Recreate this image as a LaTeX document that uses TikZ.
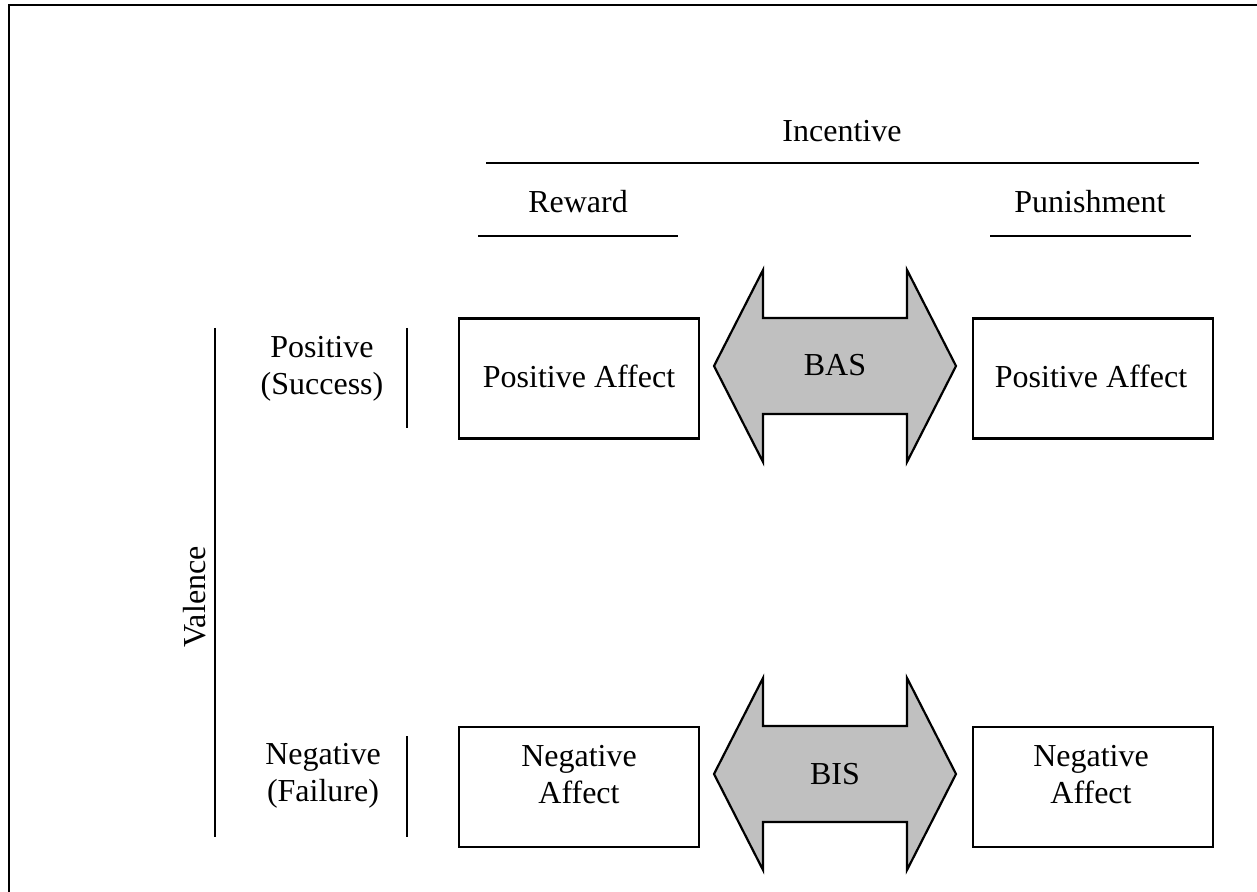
\documentclass[tikz,border=0pt]{standalone}
\usepackage{fontspec}
\setmainfont{Liberation Serif}
\usepackage{xcolor}
\usetikzlibrary{positioning}
\definecolor{arrow_gray}{RGB}{192,192,192}

\begin{document}
\begin{tikzpicture}[
      x=0.5pt,y=-0.5pt,
      affect_box/.style={
         draw=black,
         line width=1.1pt,
         minimum width=120pt,
         minimum height=60pt,
         inner sep=0pt},
      txt/.style={
         font=\fontsize{16}{18.5}\selectfont,
         align=center,
         inner sep=0pt},
      rule/.style={
         line width=1.1pt},
      big_arrow/.style={
         draw=black,
         fill=arrow_gray,
         line width=1.1pt,
         line join=miter},
      ]
      \useasboundingbox (0,0) rectangle (1257,892);
      % frame
      \draw[rule] (9,892) -- (9,5) -- (1257,5);

      % boxes
      \node[affect_box] (pa_rew) at (579,378.5) {};
      \node[affect_box,right=136pt of pa_rew] (pa_pun) {};
      \node[affect_box] (na_rew) at (579,787) {};
      \node[affect_box,right=136pt of na_rew] (na_pun) {};

    \foreach \nm/\x/\y/\txt in {% name/x/baseline/text
      incentive/842/142/Incentive,
      reward/578/213/Reward,
      punishment/1090/213/Punishment,
      pa_rew_txt/579/388/Positive Affect,
      pa_pun_txt/1091/388/Positive Affect}
      \node[txt,anchor=base] (\nm) at (\x,\y) {\txt};

    \foreach \nm/\x/\y/\txt in {% name/x/top/text
      pos/322/336/Positive\\(Success),
      neg/323/743/Negative\\(Failure),
      na_rew_txt/579/745/Negative\\Affect,
      na_pun_txt/1091/745/Negative\\Affect}
      \node[txt,anchor=north] (\nm) at (\x,\y) {\txt};

      \node[txt,anchor=base,rotate=90] (valence) at (205,597) {Valence};

      % rules
      \draw[rule] (486,163) -- (1199,163);
      \draw[rule] (478,236) -- (678,236);
      \draw[rule] (990,236) -- (1191,236);
      \draw[rule] (215,328) -- (215,837);
      \draw[rule] (407,328) -- (407,428);
      \draw[rule] (407,736) -- (407,837);

    % double arrows
    \foreach \nm/\yy/\txt in {bas/366/BAS, bis/774/BIS} {
      \draw[big_arrow] (714,\yy) -- ++(49,-96) -- ++(0,48) -- ++(144,0)
        -- ++(0,-48) -- ++(49,96) -- ++(-49,96) -- ++(0,-48) -- ++(-144,0)
        -- ++(0,48) -- cycle;
      \node[txt,anchor=base] (\nm) at (835,\yy+10) {\txt};
    }
\end{tikzpicture}
\end{document}
